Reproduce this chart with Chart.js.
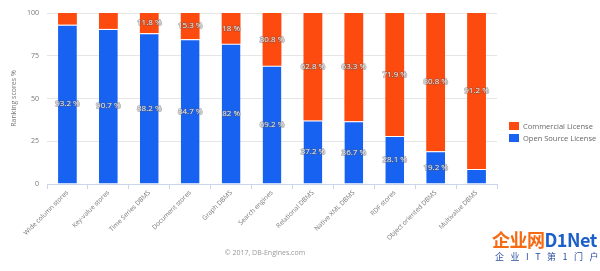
<!DOCTYPE html>
<html>
<head>
<meta charset="utf-8">
<script src="https://cdn.jsdelivr.net/npm/chart.js@4.4.1/dist/chart.umd.min.js"></script>
<style>
  html, body { margin: 0; padding: 0; background: #fff; }
  #wrap { position: relative; width: 600px; height: 271px; overflow: hidden; font-family: "Open Sans", sans-serif; }
  #legend { position: absolute; left: 509px; top: 120px; font-size: 7.5px; color: #666; line-height: 12px; white-space: nowrap; }
  #legend span.box { display: inline-block; width: 10px; height: 8px; margin-right: 4px; vertical-align: -1px; }
  #credit { position: absolute; left: 0; width: 530px; top: 248px; text-align: center; font-size: 7px; color: #999; }
  #logo { position: absolute; left: 492px; top: 228px; width: 108px; font-family: "Noto Sans CJK SC", sans-serif; }
  #logo .big { font-size: 18px; font-weight: bold; line-height: 22px; white-space: nowrap; letter-spacing: -0.5px; }
  #logo .small { font-size: 9px; color: #2a4f9e; letter-spacing: 6.5px; white-space: nowrap; line-height: 14px; padding-left: 3px; }
</style>
</head>
<body>
<div id="wrap">
  <canvas id="dbChart" width="600" height="271"></canvas>
  <div id="legend">
    <div><span class="box" style="background:#fd4a0f"></span>Commercial License</div>
    <div><span class="box" style="background:#1862f2"></span>Open Source License</div>
  </div>
  <div id="credit">© 2017, DB-Engines.com</div>
  <div id="logo">
    <div class="big"><span style="color:#f56a12">企业网</span><span style="color:#1c5fc9">D1Net</span></div>
    <div class="small">企业IT第1门户</div>
  </div>
</div>
<script>
// Daten
const categories = ['Wide column stores', 'Key-value stores', 'Time Series DBMS', 'Document stores', 'Graph DBMS',
    'Search engines', 'Relational DBMS', 'Native XML DBMS', 'RDF stores', 'Object oriented DBMS', 'Multivalue DBMS'];
const openSource = [93.2, 90.7, 88.2, 84.7, 82, 69.2, 37.2, 36.7, 28.1, 19.2, 8.8];
const commercial = [6.8, 9.3, 11.8, 15.3, 18, 30.8, 62.8, 63.3, 71.9, 80.8, 91.2];
const yTicks = [0, 25, 50, 75, 100];

// Werte in der Mitte der Segmente zeichnen (kleine Segmente ohne Label)
const segmentLabels = {
    id: 'segmentLabels',
    afterDatasetsDraw(chart) {
        const ctx = chart.ctx;
        ctx.save();
        ctx.font = '8px "Open Sans"';
        ctx.textAlign = 'center';
        ctx.textBaseline = 'middle';
        ctx.lineJoin = 'round';
        chart.data.datasets.forEach((ds, i) => {
            chart.getDatasetMeta(i).data.forEach((bar, j) => {
                const v = ds.data[j];
                if (v < 10) return;
                const y = (bar.y + bar.base) / 2;
                const txt = v + ' %';
                ctx.lineWidth = 1.5;
                ctx.strokeStyle = 'rgba(90,90,90,0.5)';
                ctx.strokeText(txt, bar.x, y);
                ctx.fillStyle = '#eeeeee';
                ctx.fillText(txt, bar.x, y);
            });
        });
        ctx.restore();
    }
};

const ctx = document.getElementById('dbChart').getContext('2d');
new Chart(ctx, {
    type: 'bar',
    data: {
        labels: categories,
        datasets: [{
            label: 'Open Source License',
            data: openSource,
            backgroundColor: '#1862f2',
            borderColor: '#ffffff',
            borderWidth: { top: 1 },
            barPercentage: 0.46,
            categoryPercentage: 1
        }, {
            label: 'Commercial License',
            data: commercial,
            backgroundColor: '#fd4a0f',
            borderColor: '#ffffff',
            borderWidth: { bottom: 1 },
            barPercentage: 0.46,
            categoryPercentage: 1
        }]
    },
    options: {
        responsive: false,
        animation: false,
        layout: { padding: { top: 13, right: 103, left: 0, bottom: 0 } },
        plugins: {
            legend: { display: false },
            tooltip: { enabled: false }
        },
        scales: {
            x: {
                stacked: true,
                grid: { drawOnChartArea: false, color: '#ccd6eb', tickLength: 5, offset: true },
                border: { color: '#ccd6eb' },
                ticks: {
                    minRotation: 45, maxRotation: 45, color: '#777',
                    font: { size: 6.5, family: '"Open Sans"' }, padding: 0
                },
                afterFit(scale) { scale.height = 87; }
            },
            y: {
                stacked: true,
                min: 0, max: 100,
                afterBuildTicks(scale) { scale.ticks = yTicks.map(v => ({ value: v })); },
                grid: { color: '#e6e6e6', drawTicks: false },
                border: { display: false },
                ticks: { color: '#777', font: { size: 7, family: '"Open Sans"' }, padding: 8 },
                title: {
                    display: true, text: 'Ranking scores %', color: '#777',
                    font: { size: 7, family: '"Open Sans"' }, padding: { top: 10, bottom: 0 }
                },
                afterFit(scale) { scale.width = 47; }
            }
        }
    },
    plugins: [segmentLabels]
});
</script>
</body>
</html>
